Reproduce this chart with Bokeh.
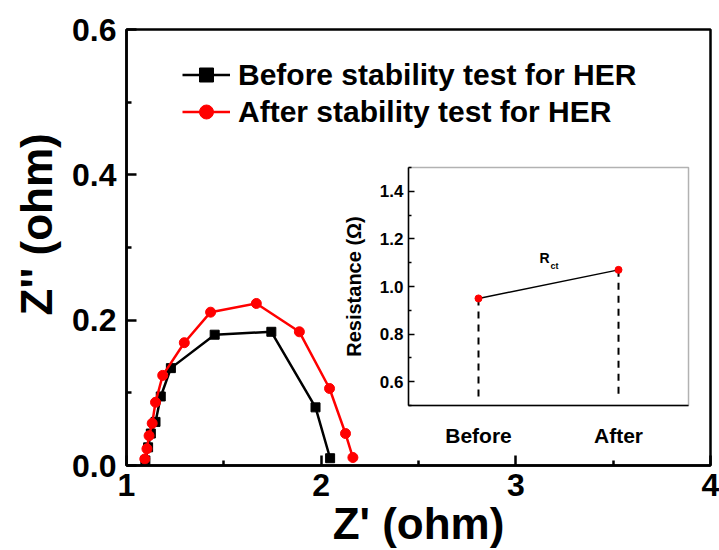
from bokeh.plotting import figure
from bokeh.models import (Range1d, LinearAxis, FixedTicker,
                          PrintfTickFormatter, Legend, LegendItem, BoxAnnotation, Label, Title)
from bokeh.embed import file_html
from bokeh.resources import INLINE

# ---- Main Nyquist data (Z' vs Z'') ----
before_zre = [1.097, 1.111, 1.125, 1.149, 1.176, 1.228, 1.453, 1.744, 1.971, 2.046]
before_zim = [0.007, 0.025, 0.044, 0.060, 0.095, 0.134, 0.180, 0.184, 0.080, 0.010]
after_zre = [1.094, 1.105, 1.116, 1.132, 1.149, 1.186, 1.297, 1.432, 1.667, 1.888, 2.043, 2.125, 2.163]
after_zim = [0.009, 0.023, 0.041, 0.058, 0.087, 0.124, 0.169, 0.211, 0.223, 0.184, 0.106, 0.044, 0.011]
legend_labels = ["Before stability test for HER", "After stability test for HER"]
x_ticks = [1, 2, 3, 4]
x_minor = [1.5, 2.5, 3.5]
y_ticks = [0.0, 0.2, 0.4, 0.6]
y_minor = [0.1, 0.3, 0.5]

# ---- Inset data (R_ct) ----
inset_categories = ["Before", "After"]
inset_x = [1, 2]
rct_values = [0.95, 1.07]
dash_floor = [0.53, 0.53]
inset_y_ticks = [0.6, 0.8, 1.0, 1.2, 1.4]
inset_y_minor = [0.5, 0.7, 0.9, 1.1, 1.3, 1.5]

FONT = "Liberation Sans"

p = figure(width=719, height=550, x_range=Range1d(1, 4), y_range=Range1d(0, 0.6),
           output_backend="svg", toolbar_location=None,
           min_border_left=126, min_border_right=9, min_border_top=29, min_border_bottom=85)
p.background_fill_color = "white"
p.border_fill_color = "white"
p.grid.visible = False
p.outline_line_color = "black"
p.outline_line_width = 2.5
p.outline_line_alpha = 1

p.xaxis.ticker = FixedTicker(ticks=x_ticks, minor_ticks=x_minor)
p.yaxis.ticker = FixedTicker(ticks=y_ticks, minor_ticks=y_minor)
p.yaxis.formatter = PrintfTickFormatter(format="%.1f")
for ax in (p.xaxis[0], p.yaxis[0]):
    ax.axis_line_width = 2.5
    ax.major_tick_line_width = 2.5
    ax.minor_tick_line_width = 2.5
    ax.major_tick_in = 10
    ax.major_tick_out = 0
    ax.minor_tick_in = 5
    ax.minor_tick_out = 0
    ax.major_label_text_font = FONT
    ax.major_label_text_font_style = "bold"
    ax.major_label_text_font_size = "32px"
    ax.major_label_text_color = "black"
p.xaxis[0].major_label_standoff = 8
p.yaxis[0].major_label_standoff = 10

xa = p.xaxis[0]
xa.axis_label = "Z' (ohm)"
xa.axis_label_text_font = FONT
xa.axis_label_text_font_style = "bold"
xa.axis_label_text_font_size = "44px"
xa.axis_label_text_color = "black"
xa.axis_label_standoff = 0

p.add_layout(Title(text="Z'' (ohm)", align="left", offset=150, standoff=18,
                   text_font=FONT, text_font_style="bold", text_font_size="44px",
                   text_color="black"), "left")

# main curves
bl = p.line(before_zre, before_zim, line_color="black", line_width=2.5)
bs = p.scatter(before_zre, before_zim, marker="square", size=9, color="black")
rl = p.line(after_zre, after_zim, line_color="red", line_width=2.5)
rs = p.scatter(after_zre, after_zim, marker="circle", size=10, color="red")

legend = Legend(items=[LegendItem(label=legend_labels[0], renderers=[bl, bs]),
                       LegendItem(label=legend_labels[1], renderers=[rl, rs])],
                location=(56, 336))
legend.label_text_font = FONT
legend.label_text_font_style = "bold"
legend.label_text_font_size = "30px"
legend.label_text_color = "black"
legend.glyph_width = 48
legend.glyph_height = 35
legend.label_height = 35
legend.spacing = 2
legend.padding = 0
legend.margin = 0
legend.label_standoff = 8
legend.border_line_color = None
legend.background_fill_alpha = 0
p.add_layout(legend)

# ---- Inset via extra ranges ----
p.extra_x_ranges = {"ix": Range1d(-1.514, 2.657)}
p.extra_y_ranges = {"iy": Range1d(0.248, 2.080)}

box = BoxAnnotation(left=0.5, right=2.5, bottom=0.5, top=1.5, x_range_name="ix", y_range_name="iy",
                    fill_alpha=0, line_color="black", line_width=1.5)
p.add_layout(box)

iy_axis = LinearAxis(x_range_name="ix", y_range_name="iy", fixed_location=0.5, bounds=(0.5, 1.5),
                     ticker=FixedTicker(ticks=inset_y_ticks, minor_ticks=inset_y_minor),
                     formatter=PrintfTickFormatter(format="%.1f"),
                     axis_label="Resistance (Ω)")
iy_axis.axis_line_width = 1.5
iy_axis.major_tick_line_width = 1.5
iy_axis.minor_tick_line_width = 1.5
iy_axis.major_tick_in = 6
iy_axis.major_tick_out = 0
iy_axis.minor_tick_in = 3
iy_axis.minor_tick_out = 0
iy_axis.major_label_text_font = FONT
iy_axis.major_label_text_font_style = "bold"
iy_axis.major_label_text_font_size = "17px"
iy_axis.major_label_text_color = "black"
iy_axis.major_label_standoff = 5
iy_axis.axis_label_text_font = FONT
iy_axis.axis_label_text_font_style = "bold"
iy_axis.axis_label_text_font_size = "20px"
iy_axis.axis_label_text_color = "black"
iy_axis.axis_label_standoff = 12
p.add_layout(iy_axis, "left")

ix_axis = LinearAxis(x_range_name="ix", y_range_name="iy", fixed_location=0.5, bounds=(0.5, 2.5),
                     ticker=FixedTicker(ticks=inset_x),
                     major_label_overrides=dict(zip(inset_x, inset_categories)))
ix_axis.axis_line_width = 1.5
ix_axis.major_tick_line_color = None
ix_axis.minor_tick_line_color = None
ix_axis.major_label_text_font = FONT
ix_axis.major_label_text_font_style = "bold"
ix_axis.major_label_text_font_size = "21px"
ix_axis.major_label_text_color = "black"
ix_axis.major_label_standoff = 12
p.add_layout(ix_axis, "below")

p.segment(x0=inset_x, y0=rct_values, x1=inset_x, y1=dash_floor, x_range_name="ix", y_range_name="iy",
          line_color="black", line_width=2, line_dash="7 6")
p.line(inset_x, rct_values, x_range_name="ix", y_range_name="iy", line_color="black", line_width=1.5)
p.scatter(inset_x, rct_values, x_range_name="ix", y_range_name="iy", marker="circle", size=7, color="red")

p.add_layout(Label(x=1.436, y=1.088, x_range_name="ix", y_range_name="iy", text="R",
                   text_font=FONT, text_font_style="bold", text_font_size="14px", text_color="black"))
p.add_layout(Label(x=1.515, y=1.067, x_range_name="ix", y_range_name="iy", text="ct",
                   text_font=FONT, text_font_style="bold", text_font_size="9px", text_color="black"))

open("out.html", "w").write(file_html(p, INLINE))
